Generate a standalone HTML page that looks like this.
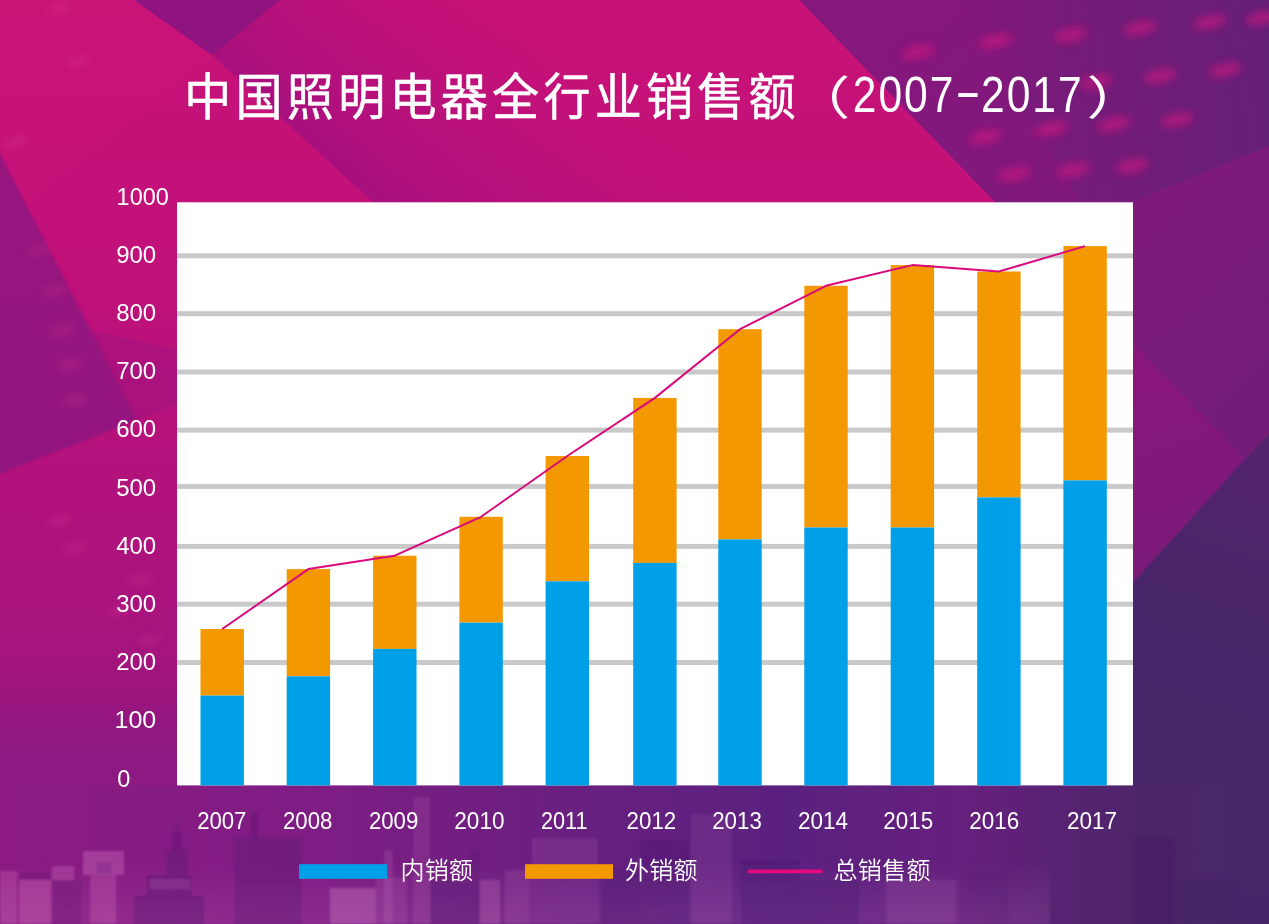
<!DOCTYPE html>
<html lang="zh-CN"><head><meta charset="utf-8"><title>中国照明电器全行业销售额（2007-2017）</title>
<style>html,body{margin:0;padding:0;background:#7d1a7c;}body{width:1269px;height:924px;overflow:hidden;}svg{display:block;}
text{fill:#fff;}
.num{font-family:"Liberation Sans",sans-serif;}
.cjk{font-family:"Liberation Sans","Noto Sans CJK SC",sans-serif;}
.lg{font-weight:350;}
</style></head><body>
<svg width="1269" height="924" viewBox="0 0 1269 924">
<defs>
<linearGradient id="gBase" x1="0" y1="0" x2="0" y2="1"><stop offset="0" stop-color="#c81277"/><stop offset="0.30" stop-color="#c0117a"/><stop offset="0.52" stop-color="#b2127c"/><stop offset="0.70" stop-color="#a8137e"/><stop offset="0.79" stop-color="#95167f"/><stop offset="0.86" stop-color="#8b1a82"/><stop offset="1" stop-color="#8a2288"/></linearGradient>
<linearGradient id="gLow" x1="0" y1="0" x2="0" y2="1"><stop offset="0" stop-color="#8a1a82" stop-opacity="0"/><stop offset="0.5" stop-color="#8a1a82" stop-opacity="0.12"/><stop offset="1" stop-color="#8a1a82" stop-opacity="0.1"/></linearGradient>
<linearGradient id="gBand" gradientUnits="userSpaceOnUse" x1="212" y1="55" x2="380" y2="-129"><stop offset="0" stop-color="#9c0f80" stop-opacity="0.75"/><stop offset="0.35" stop-color="#a80f7e" stop-opacity="0.5"/><stop offset="1" stop-color="#b5107c" stop-opacity="0"/></linearGradient>
<linearGradient id="gRight" gradientUnits="userSpaceOnUse" x1="850" y1="50" x2="1269" y2="500"><stop offset="0" stop-color="#86177d"/><stop offset="0.55" stop-color="#7d1a7b"/><stop offset="1" stop-color="#711d78"/></linearGradient>
<linearGradient id="gTR" gradientUnits="userSpaceOnUse" x1="960" y1="100" x2="1269" y2="60"><stop offset="0" stop-color="#6a1f78" stop-opacity="0"/><stop offset="0.6" stop-color="#6a1f78" stop-opacity="0.75"/><stop offset="1" stop-color="#642078" stop-opacity="0.95"/></linearGradient>
<linearGradient id="gBottom" x1="0" y1="0" x2="1" y2="0"><stop offset="0" stop-color="#8c1a82"/><stop offset="0.24" stop-color="#7f1d84"/><stop offset="0.47" stop-color="#67207f"/><stop offset="0.62" stop-color="#5b2180"/><stop offset="0.76" stop-color="#66207d"/><stop offset="0.9" stop-color="#4c2569"/><stop offset="1" stop-color="#48266a"/></linearGradient>
<linearGradient id="gBL" x1="0" y1="0" x2="0" y2="1"><stop offset="0" stop-color="#8c1a82" stop-opacity="0"/><stop offset="1" stop-color="#8c1a82" stop-opacity="1"/></linearGradient>
<linearGradient id="gHaze" x1="0" y1="0" x2="0" y2="1"><stop offset="0" stop-color="#ffb0e8" stop-opacity="0"/><stop offset="1" stop-color="#ffb0e8" stop-opacity="0.13"/></linearGradient>
<linearGradient id="gTri" gradientUnits="userSpaceOnUse" x1="1133" y1="380" x2="1190" y2="540"><stop offset="0" stop-color="#8a177c"/><stop offset="1" stop-color="#7c1a79"/></linearGradient>
<linearGradient id="gDark" gradientUnits="userSpaceOnUse" x1="1269" y1="433" x2="1180" y2="700"><stop offset="0" stop-color="#56236e"/><stop offset="0.5" stop-color="#4a256a"/><stop offset="1" stop-color="#48266a"/></linearGradient>
<filter id="blur1" x="-5%" y="-5%" width="110%" height="110%"><feGaussianBlur stdDeviation="1.2"/></filter>
<filter id="blur4" x="-50%" y="-50%" width="200%" height="200%"><feGaussianBlur stdDeviation="4"/></filter>
</defs>
<g id="bg">
<rect width="1269" height="924" fill="url(#gBase)"/>
<rect x="0" y="560" width="1269" height="364" fill="url(#gLow)"/>
<polygon points="0,0 134,0 212,55 0,226" fill="#d21c7c" opacity="0.18"/>
<polygon points="134,0 760,0 960,202 373,202 212,55" fill="url(#gBand)"/>
<polygon points="134,0 280,0 212,55" fill="#8f1480"/>
<polygon points="-6,142 137,420 -6,476" fill="#8c1580" opacity="0.8" filter="url(#blur1)"/>
<polygon points="90,330 177,350 177,404 137,420" fill="#8a1580" opacity="0.3"/>
<polygon points="799,0 1269,0 1269,924 1000,924 1000,207" fill="url(#gRight)"/>
<polygon points="960,0 1269,0 1269,146 1133,201 1080,201" fill="url(#gTR)"/>
<g filter="url(#blur4)" fill="#d3127f" opacity="0.6">
<ellipse cx="918" cy="52" rx="17" ry="7" transform="rotate(-12 918 52)"/>
<ellipse cx="996" cy="41" rx="17" ry="7" transform="rotate(-12 996 41)"/>
<ellipse cx="1070" cy="35" rx="17" ry="7" transform="rotate(-12 1070 35)"/>
<ellipse cx="1140" cy="28" rx="17" ry="7" transform="rotate(-12 1140 28)"/>
<ellipse cx="1210" cy="22" rx="17" ry="7" transform="rotate(-12 1210 22)"/>
<ellipse cx="1160" cy="76" rx="17" ry="7" transform="rotate(-12 1160 76)"/>
<ellipse cx="1225" cy="70" rx="17" ry="7" transform="rotate(-12 1225 70)"/>
<ellipse cx="1096" cy="82" rx="17" ry="7" transform="rotate(-12 1096 82)"/>
<ellipse cx="985" cy="137" rx="17" ry="7" transform="rotate(-12 985 137)"/>
<ellipse cx="1051" cy="129" rx="17" ry="7" transform="rotate(-12 1051 129)"/>
<ellipse cx="1114" cy="124" rx="17" ry="7" transform="rotate(-12 1114 124)"/>
<ellipse cx="1177" cy="120" rx="17" ry="7" transform="rotate(-12 1177 120)"/>
<ellipse cx="1014" cy="174" rx="17" ry="7" transform="rotate(-12 1014 174)"/>
<ellipse cx="1073" cy="170" rx="17" ry="7" transform="rotate(-12 1073 170)"/>
<ellipse cx="1132" cy="166" rx="17" ry="7" transform="rotate(-12 1132 166)"/>
<ellipse cx="1262" cy="18" rx="17" ry="7" transform="rotate(-12 1262 18)"/>
</g>
<g filter="url(#blur4)" fill="#e04a9a" opacity="0.22">
<ellipse cx="78" cy="62" rx="13" ry="5" transform="rotate(-12 78 62)"/>
<ellipse cx="16" cy="142" rx="13" ry="5" transform="rotate(-12 16 142)"/>
<ellipse cx="60" cy="8" rx="13" ry="5" transform="rotate(-12 60 8)"/>
<ellipse cx="40" cy="250" rx="13" ry="5" transform="rotate(-12 40 250)"/>
<ellipse cx="55" cy="290" rx="13" ry="5" transform="rotate(-12 55 290)"/>
<ellipse cx="62" cy="330" rx="13" ry="5" transform="rotate(-12 62 330)"/>
<ellipse cx="70" cy="365" rx="13" ry="5" transform="rotate(-12 70 365)"/>
<ellipse cx="75" cy="400" rx="13" ry="5" transform="rotate(-12 75 400)"/>
<ellipse cx="60" cy="520" rx="13" ry="5" transform="rotate(-12 60 520)"/>
<ellipse cx="75" cy="548" rx="13" ry="5" transform="rotate(-12 75 548)"/>
<ellipse cx="140" cy="580" rx="13" ry="5" transform="rotate(-12 140 580)"/>
<ellipse cx="120" cy="610" rx="13" ry="5" transform="rotate(-12 120 610)"/>
<ellipse cx="150" cy="640" rx="13" ry="5" transform="rotate(-12 150 640)"/>
</g>
<polygon points="1133,344 1244,458 1165,545 1133,580" fill="url(#gTri)"/>
<polygon points="1269,433 1165,548 1133,583 1133,785 1269,785" fill="url(#gDark)"/>
<rect x="0" y="785" width="1269" height="139" fill="url(#gBottom)"/>
<rect x="0" y="700" width="177" height="86" fill="url(#gBL)"/>
<g id="sky" opacity="0.85" filter="url(#blur1)">
<rect x="0" y="871" width="17" height="53" fill="#ffb0e8" opacity="0.2"/>
<rect x="19" y="880" width="32" height="44" fill="#ffb0e8" opacity="0.24"/>
<rect x="52" y="866" width="22" height="14" fill="#ffb0e8" opacity="0.22"/>
<rect x="83" y="851" width="41" height="24" fill="#ffb0e8" opacity="0.27"/>
<rect x="90" y="875" width="26" height="49" fill="#ffb0e8" opacity="0.2"/>
<rect x="330" y="888" width="46" height="36" fill="#ffb0e8" opacity="0.28"/>
<rect x="384" y="850" width="9" height="74" fill="#ffb0e8" opacity="0.13"/>
<rect x="376" y="878" width="31" height="46" fill="#ffb0e8" opacity="0.12"/>
<rect x="413" y="797" width="17" height="127" fill="#ffb0e8" opacity="0.12"/>
<rect x="480" y="880" width="20" height="44" fill="#ffb0e8" opacity="0.2"/>
<rect x="505" y="870" width="25" height="54" fill="#ffb0e8" opacity="0.12"/>
<rect x="532" y="838" width="66" height="27" fill="#ffb0e8" opacity="0.11"/>
<rect x="532" y="865" width="66" height="59" fill="#ffb0e8" opacity="0.05"/>
<rect x="691" y="814" width="41" height="110" fill="#ffb0e8" opacity="0.09"/>
<rect x="886" y="880" width="70" height="44" fill="#ffb0e8" opacity="0.1"/>
<rect x="150" y="879" width="40" height="10" fill="#ffb0e8" opacity="0.22"/>
<rect x="0" y="860" width="1050" height="64" fill="url(#gHaze)"/>
<rect x="96" y="862" width="16" height="12" fill="#5a1878" opacity="0.25"/>
<rect x="19" y="872" width="32" height="8" fill="#3c1866" opacity="0.2"/>
<rect x="52" y="880" width="30" height="44" fill="#3c1866" opacity="0.22"/>
<rect x="133" y="895" width="72" height="29" fill="#3c1866" opacity="0.3"/>
<rect x="146" y="875" width="46" height="20" fill="#3c1866" opacity="0.3"/>
<rect x="166" y="850" width="22" height="25" fill="#3c1866" opacity="0.25"/>
<rect x="172" y="832" width="10" height="18" fill="#3c1866" opacity="0.22"/>
<rect x="176" y="820" width="2" height="12" fill="#3c1866" opacity="0.25"/>
<rect x="234" y="838" width="68" height="86" fill="#3c1866" opacity="0.26"/>
<rect x="251" y="812" width="7" height="26" fill="#3c1866" opacity="0.2"/>
<rect x="430" y="880" width="50" height="44" fill="#3c1866" opacity="0.25"/>
<rect x="470" y="850" width="10" height="30" fill="#3c1866" opacity="0.15"/>
<rect x="600" y="868" width="40" height="56" fill="#3c1866" opacity="0.25"/>
<rect x="640" y="840" width="50" height="84" fill="#3c1866" opacity="0.2"/>
<rect x="740" y="860" width="60" height="64" fill="#3c1866" opacity="0.22"/>
<rect x="800" y="880" width="60" height="44" fill="#3c1866" opacity="0.22"/>
<rect x="1135" y="838" width="40" height="86" fill="#3c1866" opacity="0.2"/>
<rect x="1180" y="880" width="60" height="44" fill="#3c1866" opacity="0.26"/>
<rect x="1240" y="895" width="29" height="29" fill="#3c1866" opacity="0.28"/>
<rect x="960" y="870" width="50" height="54" fill="#3c1866" opacity="0.12"/>
</g>
</g>
<rect x="177" y="202.3" width="956" height="583.1" fill="#fff"/>
<rect x="177" y="253.3" width="956" height="5" fill="#c9c9c9"/>
<rect x="177" y="311.2" width="956" height="5" fill="#c9c9c9"/>
<rect x="177" y="369.5" width="956" height="5" fill="#c9c9c9"/>
<rect x="177" y="427.6" width="956" height="5" fill="#c9c9c9"/>
<rect x="177" y="483.9" width="956" height="5" fill="#c9c9c9"/>
<rect x="177" y="543.9" width="956" height="5" fill="#c9c9c9"/>
<rect x="177" y="601.7" width="956" height="5" fill="#c9c9c9"/>
<rect x="177" y="660.0" width="956" height="5" fill="#c9c9c9"/>
<rect x="200.5" y="629.0" width="43.4" height="66.6" fill="#f39800"/>
<rect x="200.5" y="695.6" width="43.4" height="89.8" fill="#00a0e9"/>
<rect x="286.7" y="569.1" width="43.4" height="107.2" fill="#f39800"/>
<rect x="286.7" y="676.3" width="43.4" height="109.1" fill="#00a0e9"/>
<rect x="373.1" y="555.7" width="43.4" height="93.2" fill="#f39800"/>
<rect x="373.1" y="648.9" width="43.4" height="136.5" fill="#00a0e9"/>
<rect x="459.4" y="516.8" width="43.4" height="105.8" fill="#f39800"/>
<rect x="459.4" y="622.6" width="43.4" height="162.8" fill="#00a0e9"/>
<rect x="545.6" y="456.0" width="43.4" height="125.3" fill="#f39800"/>
<rect x="545.6" y="581.3" width="43.4" height="204.1" fill="#00a0e9"/>
<rect x="633.2" y="397.9" width="43.4" height="165.0" fill="#f39800"/>
<rect x="633.2" y="562.9" width="43.4" height="222.5" fill="#00a0e9"/>
<rect x="718.3" y="329.2" width="43.4" height="210.2" fill="#f39800"/>
<rect x="718.3" y="539.4" width="43.4" height="246.0" fill="#00a0e9"/>
<rect x="804.3" y="285.8" width="43.4" height="241.7" fill="#f39800"/>
<rect x="804.3" y="527.5" width="43.4" height="257.9" fill="#00a0e9"/>
<rect x="890.7" y="265.1" width="43.4" height="262.4" fill="#f39800"/>
<rect x="890.7" y="527.5" width="43.4" height="257.9" fill="#00a0e9"/>
<rect x="977.2" y="271.5" width="43.4" height="225.9" fill="#f39800"/>
<rect x="977.2" y="497.4" width="43.4" height="288.0" fill="#00a0e9"/>
<rect x="1063.4" y="246.1" width="43.4" height="234.3" fill="#f39800"/>
<rect x="1063.4" y="480.4" width="43.4" height="305.0" fill="#00a0e9"/>
<polyline points="222.2,629.0 308.4,569.1 394.8,555.7 481.1,516.8 567.3,456.0 654.9,397.9 740.0,329.2 826.0,285.8 912.4,265.1 998.9,271.5 1085.1,246.1" fill="none" stroke="#d9097c" stroke-width="2" stroke-linejoin="round"/>
<text class="num" x="117.3" y="786.5" font-size="23.5">0</text>
<text class="num" x="114.5" y="728.3" font-size="23.5" textLength="41.7" lengthAdjust="spacingAndGlyphs">100</text>
<text class="num" x="116.2" y="670.1" font-size="23.5" textLength="40.0" lengthAdjust="spacingAndGlyphs">200</text>
<text class="num" x="116.2" y="611.9" font-size="23.5" textLength="40.0" lengthAdjust="spacingAndGlyphs">300</text>
<text class="num" x="116.2" y="553.7" font-size="23.5" textLength="40.0" lengthAdjust="spacingAndGlyphs">400</text>
<text class="num" x="116.2" y="495.5" font-size="23.5" textLength="40.0" lengthAdjust="spacingAndGlyphs">500</text>
<text class="num" x="116.2" y="437.3" font-size="23.5" textLength="40.0" lengthAdjust="spacingAndGlyphs">600</text>
<text class="num" x="116.2" y="379.1" font-size="23.5" textLength="40.0" lengthAdjust="spacingAndGlyphs">700</text>
<text class="num" x="116.2" y="320.9" font-size="23.5" textLength="40.0" lengthAdjust="spacingAndGlyphs">800</text>
<text class="num" x="116.2" y="262.7" font-size="23.5" textLength="40.0" lengthAdjust="spacingAndGlyphs">900</text>
<text class="num" x="116.6" y="204.5" font-size="23.5" textLength="52.2" lengthAdjust="spacingAndGlyphs">1000</text>
<text class="num" x="197.2" y="829.4" font-size="24" textLength="49.2" lengthAdjust="spacingAndGlyphs">2007</text>
<text class="num" x="283.0" y="829.4" font-size="24" textLength="49.4" lengthAdjust="spacingAndGlyphs">2008</text>
<text class="num" x="368.9" y="829.4" font-size="24" textLength="49.4" lengthAdjust="spacingAndGlyphs">2009</text>
<text class="num" x="454.3" y="829.4" font-size="24" textLength="50.2" lengthAdjust="spacingAndGlyphs">2010</text>
<text class="num" x="541.0" y="829.4" font-size="24" textLength="46.6" lengthAdjust="spacingAndGlyphs">2011</text>
<text class="num" x="626.6" y="829.4" font-size="24" textLength="49.6" lengthAdjust="spacingAndGlyphs">2012</text>
<text class="num" x="712.2" y="829.4" font-size="24" textLength="49.6" lengthAdjust="spacingAndGlyphs">2013</text>
<text class="num" x="798.1" y="829.4" font-size="24" textLength="50.0" lengthAdjust="spacingAndGlyphs">2014</text>
<text class="num" x="883.3" y="829.4" font-size="24" textLength="49.8" lengthAdjust="spacingAndGlyphs">2015</text>
<text class="num" x="969.2" y="829.4" font-size="24" textLength="50.0" lengthAdjust="spacingAndGlyphs">2016</text>
<text class="num" x="1067.1" y="829.4" font-size="24" textLength="50.0" lengthAdjust="spacingAndGlyphs">2017</text>
<g transform="scale(0.94,1)"><text class="cjk" stroke="#fff" stroke-width="0.55" y="115.3" font-size="50" x="196.1 250.6 305.2 359.8 414.4 468.9 523.5 578.1 632.7 687.2 741.8 796.4">中国照明电器全行业销售额</text>
</g>
<text class="cjk" transform="translate(790.4,113.6) scale(1.3,1)" font-size="46">（</text>
<text class="cjk" transform="translate(1086.4,113.6) scale(1.3,1)" font-size="46">）</text>
<g transform="scale(0.86,1)"><text class="num" y="111.7" font-size="49.5" x="991.7 1021.5 1051.3 1081.1">2007</text>
<text class="num" y="111.7" font-size="49.5" x="1140.8 1170.6 1200.4 1230.2">2017</text></g>
<text class="num" transform="translate(957.3,107.8) scale(1.6,1.0)" x="-1.6" y="0" font-size="49.5">-</text>
<rect x="299" y="864.2" width="88.3" height="14.6" fill="#00a0e9"/>
<text class="cjk lg" x="400.5" y="879" font-size="24" textLength="72.5" lengthAdjust="spacing">内销额</text>
<rect x="525" y="864.2" width="88" height="14.6" fill="#f39800"/>
<text class="cjk lg" x="625" y="879" font-size="24" textLength="72.5" lengthAdjust="spacing">外销额</text>
<rect x="747.8" y="869.6" width="75" height="3.6" rx="1.8" fill="#e5097f"/>
<text class="cjk lg" x="833.5" y="879" font-size="24" textLength="97" lengthAdjust="spacing">总销售额</text>
</svg></body></html>
